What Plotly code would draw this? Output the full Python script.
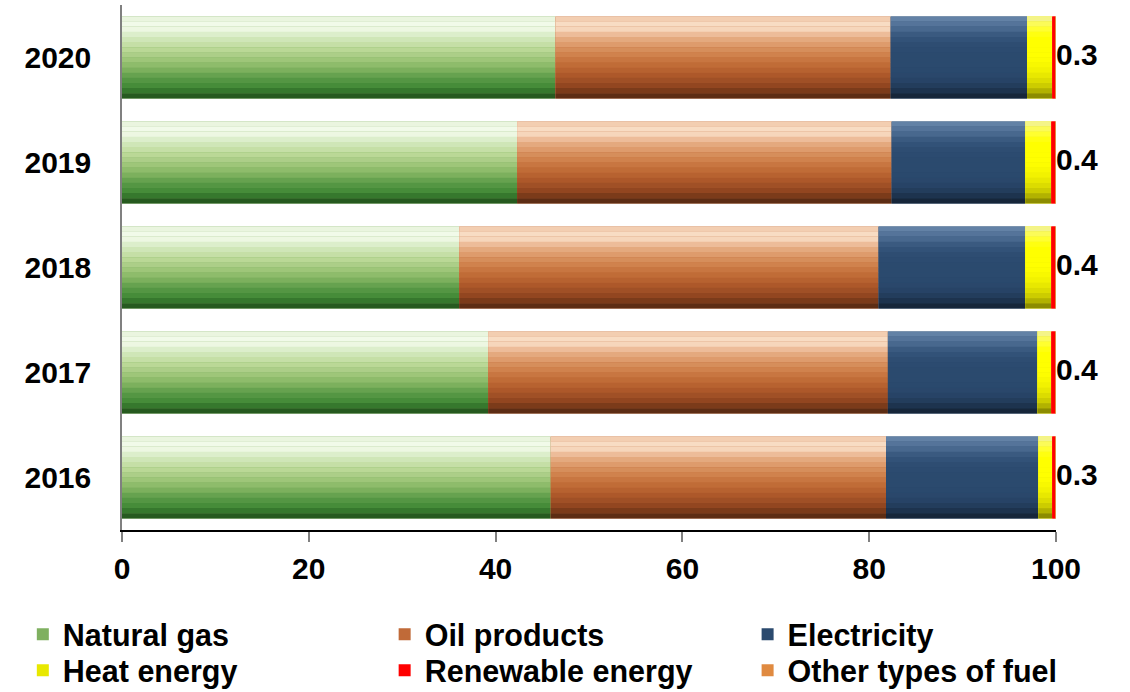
import plotly.graph_objects as go

years = ["2016", "2017", "2018", "2019", "2020"]
natural_gas = [45.9, 39.2, 36.1, 42.3, 46.4]
oil_products = [35.9, 42.8, 44.9, 40.1, 35.9]
electricity = [16.3, 16.0, 15.7, 14.3, 14.6]
heat_energy = [1.5, 1.5, 2.8, 2.8, 2.7]
renewable = [0.3, 0.4, 0.4, 0.4, 0.3]
other_fuel = [0.1, 0.1, 0.1, 0.1, 0.1]
x_ticks = [0, 20, 40, 60, 80, 100]

# colour stops from top edge of a bar to its bottom edge (style only)
series = [
    ("Natural gas", natural_gas, "#7fb060",
     ["#e6f3da", "#f5fcee", "#d4e9bf", "#c0dc9e", "#a6ca80", "#86b864", "#5c9a48", "#3e8834", "#1e4a18"]),
    ("Oil products", oil_products, "#c06a38",
     ["#f0c8a8", "#fbe2cc", "#e8b088", "#da9462", "#cc7c46", "#bc6632", "#a85428", "#8a421e", "#4e2610"]),
    ("Electricity", electricity, "#2b4a6e",
     ["#6a88ac", "#4e6e94", "#34547a", "#2c4b70", "#2b4a6e", "#2b4a6e", "#29466a", "#213a58", "#121f30"]),
    ("Heat energy", heat_energy, "#e8e800",
     ["#f0f0a0", "#ffff40", "#ffff00", "#ffff00", "#ffff00", "#f6f600", "#e4e400", "#c4c400", "#7a7a00"]),
    ("Renewable energy", renewable, "#ff0000",
     ["#ff0000"] * 3),
    ("Other types of fuel", other_fuel, "#e08a40",
     ["#e08a40"] * 3),
]

# legend slot for each series: (x in container fraction, y in container fraction)
legend_cols = [0.0202, 0.3404, 0.6616]
legend_rows = [0.1215, 0.0695]

FONT = "Liberation Sans, Arial, sans-serif"
BAR_W = 0.78
NB = 16


def hex2rgb(h):
    h = h.lstrip("#")
    return [int(h[i:i + 2], 16) for i in (0, 2, 4)]


def interp(stops, t):
    n = len(stops) - 1
    p = t * n
    i = min(int(p), n - 1)
    f = p - i
    a, b = hex2rgb(stops[i]), hex2rgb(stops[i + 1])
    c = [round(a[k] + (b[k] - a[k]) * f) for k in range(3)]
    return "rgb({},{},{})".format(*c)


fig = go.Figure()
cum = [0.0] * len(years)
legend_layout = {}
for idx, (name, vals, mid, stops) in enumerate(series):
    lg = "legend" if idx == 0 else f"legend{idx + 1}"
    legend_layout[lg] = dict(
        x=legend_cols[idx % 3], y=legend_rows[idx // 3],
        xref="container", yref="container",
        xanchor="left", yanchor="top", orientation="h",
        font=dict(family=FONT, size=30.5, color="black", weight="bold"),
        itemclick=False, itemdoubleclick=False,
        bgcolor="rgba(0,0,0,0)",
    )
    base = list(cum)
    fig.add_trace(go.Bar(
        name=name, y=years, x=vals, base=base, orientation="h",
        marker=dict(color=mid, line=dict(width=0)),
        width=BAR_W, offset=-BAR_W / 2, hoverinfo="skip", legend=lg,
    ))
    bw = BAR_W / NB
    for i in range(NB):
        col = interp(stops, (i + 0.5) / NB)
        fig.add_trace(go.Bar(
            y=years, x=vals, base=base, orientation="h",
            marker=dict(color=col, line=dict(width=0)),
            width=bw * 1.02, offset=BAR_W / 2 - (i + 1) * bw,
            showlegend=False, hoverinfo="skip",
        ))
    cum = [c + v for c, v in zip(cum, vals)]

fig.add_trace(go.Scatter(
    y=years, x=cum, mode="text",
    text=[f"{v:.1f}" for v in renewable],
    textposition="middle right",
    textfont=dict(family=FONT, size=30, color="black", weight="bold"),
    showlegend=False, cliponaxis=False, hoverinfo="skip",
))

fig.update_layout(
    width=1130, height=692,
    barmode="overlay",
    bargap=0.22,
    paper_bgcolor="white", plot_bgcolor="white",
    margin=dict(l=122, r=74, t=5, b=162),
    font=dict(family=FONT, size=30, color="black", weight="bold"),
    xaxis=dict(
        range=[0, 100], tickvals=x_ticks, ticktext=[str(t) for t in x_ticks],
        showgrid=False, zeroline=False,
        showline=True, linecolor="black", linewidth=1.5,
        ticks="outside", ticklen=10, tickcolor="#808080", tickwidth=1.5,
        tickfont=dict(family=FONT, size=30, color="black", weight="bold"),
        ticklabelstandoff=1,
        fixedrange=True,
    ),
    yaxis=dict(
        type="category", categoryorder="array", categoryarray=years,
        showgrid=False, zeroline=False,
        showline=True, linecolor="#808080", linewidth=1.5,
        ticks="", ticklabelstandoff=23,
        tickfont=dict(family=FONT, size=30, color="black", weight="bold"),
        fixedrange=True,
    ),
    showlegend=True,
    **legend_layout,
)

fig.write_html("out.html")
